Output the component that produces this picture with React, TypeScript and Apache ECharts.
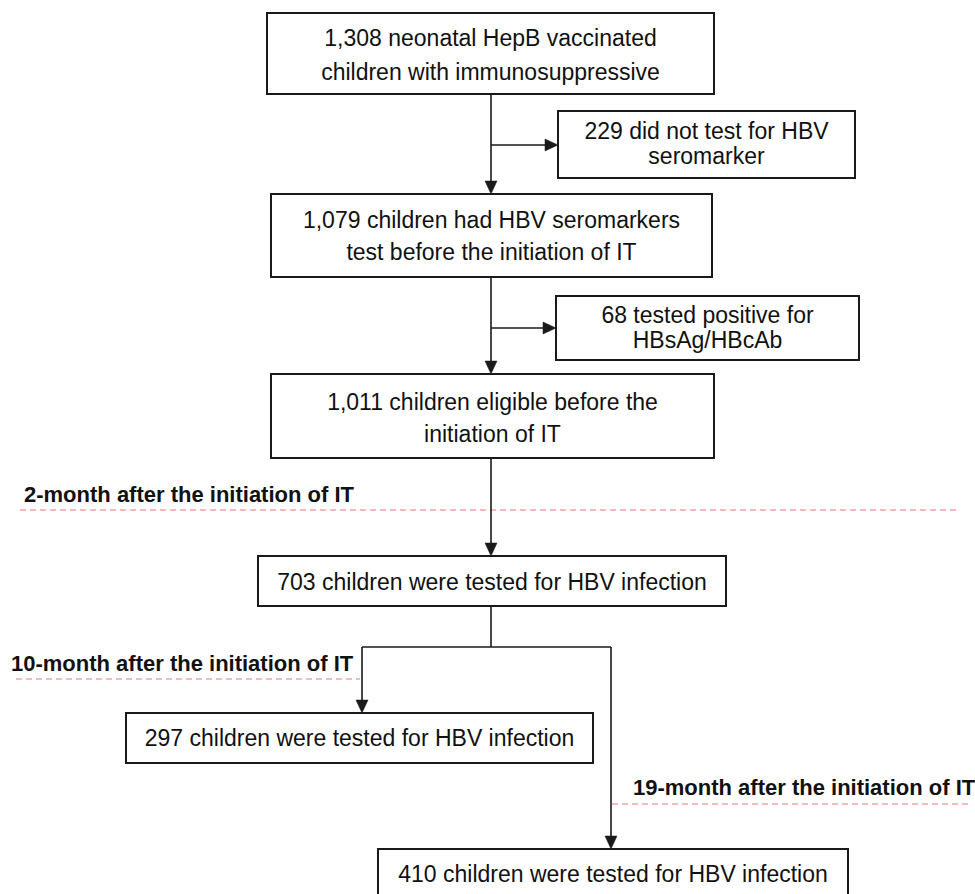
import React, { useEffect, useRef } from "react";
import * as echarts from "echarts";

// ---- Content (texts) ----
const boxTexts: string[][] = [
  ["1,308 neonatal HepB vaccinated", "children with immunosuppressive"],
  ["229 did not test for HBV", "seromarker"],
  ["1,079 children had HBV seromarkers", "test before the initiation of IT"],
  ["68 tested positive for", "HBsAg/HBcAb"],
  ["1,011 children eligible before the", "initiation of IT"],
  ["703 children were tested for HBV infection"],
  ["297 children were tested for HBV infection"],
  ["410 children were tested for HBV infection"],
];
const timepointLabels: string[] = [
  "2-month after the initiation of IT",
  "10-month after the initiation of IT",
  "19-month after the initiation of IT",
];

// ---- Layout (positions/sizes) ----
const boxRects = [
  { x: 267, y: 13, w: 447, h: 81, ly: [38, 72] },
  { x: 558, y: 111, w: 297, h: 67, ly: [131, 156] },
  { x: 271, y: 194, w: 441, h: 83, ly: [220, 252] },
  { x: 556, y: 296, w: 303, h: 64, ly: [315, 340] },
  { x: 271, y: 374, w: 443, h: 84, ly: [402, 434] },
  { x: 258, y: 556, w: 468, h: 50, ly: [582] },
  { x: 126, y: 713, w: 467, h: 50, ly: [738] },
  { x: 378, y: 849, w: 470, h: 60, ly: [874] },
];
const labelPos = [
  { x: 24, y: 494 },
  { x: 11, y: 663 },
  { x: 633, y: 787 },
];
const dashLines = [
  [20, 510, 957, 510],
  [16, 679, 360, 679],
  [612, 804, 968, 804],
];
// plain connector segments
const segments = [
  [491, 94, 491, 182],
  [491, 145, 546, 145],
  [491, 277, 491, 362],
  [491, 328, 544, 328],
  [491, 458, 491, 543],
  [491, 606, 491, 647],
  [362, 647, 611, 647],
  [362, 647, 362, 701],
  [611, 647, 611, 837],
];
// arrowheads: tip x, tip y, direction
const arrows = [
  { x: 491, y: 194, d: "down" },
  { x: 558, y: 145, d: "right" },
  { x: 491, y: 374, d: "down" },
  { x: 556, y: 328, d: "right" },
  { x: 491, y: 556, d: "down" },
  { x: 362, y: 713, d: "down" },
  { x: 611, y: 849, d: "down" },
];

const FONT = '"Liberation Sans", Arial, Helvetica, sans-serif';
const INK = "#1a1a1a";

export default function App() {
  const ref = useRef<HTMLDivElement>(null);
  useEffect(() => {
    document.body.style.margin = "0";
    if (!ref.current) return;
    const chart = echarts.init(ref.current, undefined, { renderer: "svg" });
    const elements: any[] = [];

    dashLines.forEach(([x1, y1, x2, y2]) => {
      elements.push({
        type: "line",
        shape: { x1, y1, x2, y2 },
        style: { stroke: "#f3a3a3", lineWidth: 1.5, lineDash: [6, 4] },
      });
    });

    segments.forEach(([x1, y1, x2, y2]) => {
      elements.push({
        type: "line",
        shape: { x1, y1, x2, y2 },
        style: { stroke: INK, lineWidth: 1.6 },
      });
    });

    arrows.forEach((a) => {
      const pts =
        a.d === "down"
          ? [
              [a.x - 6, a.y - 13],
              [a.x + 6, a.y - 13],
              [a.x, a.y],
            ]
          : [
              [a.x - 13, a.y - 6],
              [a.x - 13, a.y + 6],
              [a.x, a.y],
            ];
      elements.push({
        type: "polygon",
        shape: { points: pts },
        style: { fill: INK, stroke: INK, lineWidth: 0.5 },
      });
    });

    boxRects.forEach((b, i) => {
      elements.push({
        type: "rect",
        shape: { x: b.x, y: b.y, width: b.w, height: b.h },
        style: { fill: "#ffffff", stroke: INK, lineWidth: 2 },
      });
      boxTexts[i].forEach((t, j) => {
        elements.push({
          type: "text",
          x: b.x + b.w / 2,
          y: b.ly[j],
          style: {
            text: t,
            font: `23px ${FONT}`,
            fill: "#111111",
            textAlign: "center",
            textVerticalAlign: "middle",
          },
        });
      });
    });

    timepointLabels.forEach((t, i) => {
      elements.push({
        type: "text",
        x: labelPos[i].x,
        y: labelPos[i].y,
        style: {
          text: t,
          font: `bold 22px ${FONT}`,
          fill: "#111111",
          textAlign: "left",
          textVerticalAlign: "middle",
        },
      });
    });

    chart.setOption({
      animation: false,
      backgroundColor: "#ffffff",
      graphic: { elements },
    });
    return () => chart.dispose();
  }, []);
  return <div ref={ref} style={{ width: 975, height: 894 }} />;
}
